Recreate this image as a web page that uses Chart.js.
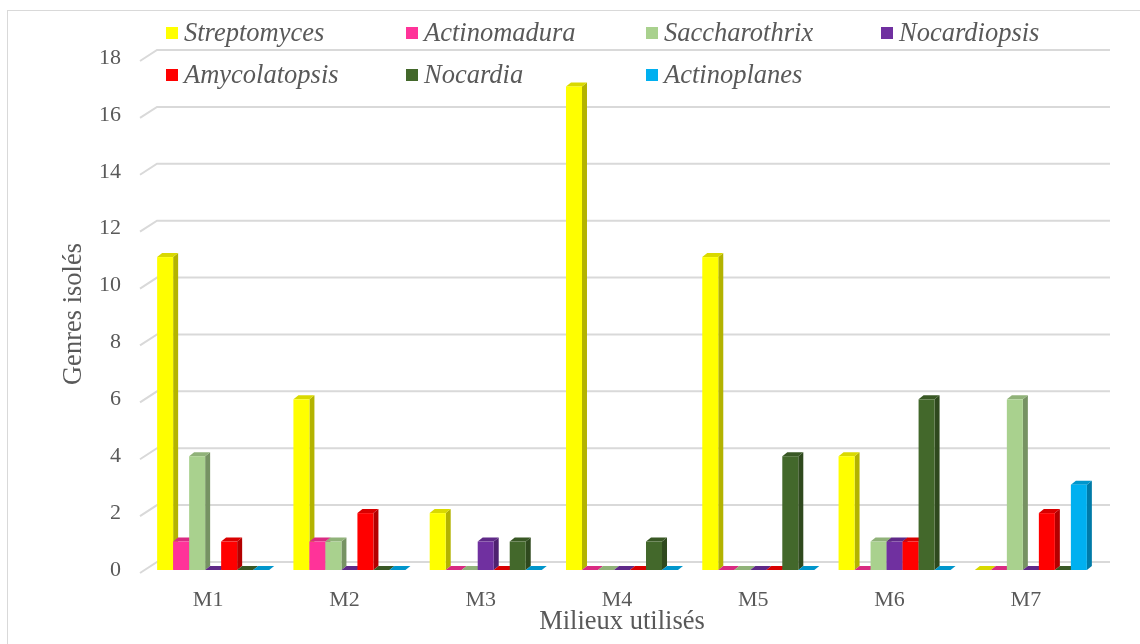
<!DOCTYPE html>
<html>
<head>
<meta charset="utf-8">
<script src="https://cdn.jsdelivr.net/npm/chart.js@4/dist/chart.umd.min.js"></script>
<style>
  html, body { margin: 0; padding: 0; background: #ffffff; }
  #wrap { width: 1140px; height: 644px; position: relative; }
</style>
</head>
<body>
<div id="wrap"><canvas id="chart" width="1140" height="644"></canvas></div>
<script>
// Culture media (x axis categories)
const categories = ['M1', 'M2', 'M3', 'M4', 'M5', 'M6', 'M7'];

// Number of isolates per genus on each medium
const streptomyces  = [11, 6, 2, 17, 11, 4, 0];
const actinomadura  = [1, 1, 0, 0, 0, 0, 0];
const saccharothrix = [4, 1, 0, 0, 0, 1, 6];
const nocardiopsis  = [0, 0, 1, 0, 0, 1, 0];
const amycolatopsis = [1, 2, 0, 0, 0, 1, 2];
const nocardia      = [0, 0, 1, 1, 4, 6, 0];
const actinoplanes  = [0, 0, 0, 0, 0, 0, 3];

// Genus names (legend) and value axis ticks
const genera = ['Streptomyces', 'Actinomadura', 'Saccharothrix', 'Nocardiopsis',
                'Amycolatopsis', 'Nocardia', 'Actinoplanes'];
const yTicks = [0, 2, 4, 6, 8, 10, 12, 14, 16, 18];

const seriesValues = [streptomyces, actinomadura, saccharothrix, nocardiopsis,
                      amycolatopsis, nocardia, actinoplanes];
const seriesColors = ['#FFFF00', '#FF3399', '#A9D18E', '#7030A0',
                      '#FF0000', '#43682B', '#00B0F0'];

const FONT = '"Liberation Serif", "Times New Roman", serif';
const TEXT = '#595959';
const GRID = '#d9d9d9';
const TITLE_SIZE = 26.5;

function shade(hex, f) {
  const n = parseInt(hex.slice(1), 16);
  const r = Math.round(((n >> 16) & 255) * f);
  const g = Math.round(((n >> 8) & 255) * f);
  const b = Math.round((n & 255) * f);
  return 'rgb(' + r + ',' + g + ',' + b + ')';
}

// Pseudo-3D column rendering: back wall gridlines plus front/side/top faces
const DX = 5, DY = 4;           // column depth offset
const WALL_DX = 17, WALL_BACK = 8, WALL_FRONT = 3;

const column3d = {
  id: 'column3d',
  beforeDatasetsDraw(chart) {
    const ctx = chart.ctx;
    const area = chart.chartArea;
    const ys = chart.scales.y;

    // gridlines on back wall, with a short slanted segment on the side wall
    ctx.save();
    ctx.strokeStyle = GRID;
    ctx.lineWidth = 2;
    yTicks.forEach(v => {
      const py = ys.getPixelForValue(v);
      ctx.beginPath();
      ctx.moveTo(area.left - 5, py + WALL_FRONT);
      ctx.lineTo(area.left - 5 + WALL_DX, py - WALL_BACK);
      ctx.lineTo(area.right + 11, py - WALL_BACK);
      ctx.stroke();
    });
    ctx.restore();

    // columns, left to right so each one covers its neighbour's side face
    ctx.save();
    chart.data.datasets.forEach((ds, di) => {
      const meta = chart.getDatasetMeta(di);
      const front = ds.backgroundColor;
      const side = shade(front, 0.7);
      const top = shade(front, 0.85);
      meta.data.forEach(el => {
        const p = el.getProps(['x', 'y', 'base', 'width'], true);
        const l = p.x - p.width / 2, r = p.x + p.width / 2;
        const t = Math.min(p.y, p.base), b = Math.max(p.y, p.base);
        // side face
        ctx.fillStyle = side;
        ctx.beginPath();
        ctx.moveTo(r, t); ctx.lineTo(r + DX, t - DY);
        ctx.lineTo(r + DX, b - DY); ctx.lineTo(r, b);
        ctx.closePath(); ctx.fill();
        // top face
        ctx.fillStyle = top;
        ctx.beginPath();
        ctx.moveTo(l, t); ctx.lineTo(l + DX, t - DY);
        ctx.lineTo(r + DX, t - DY); ctx.lineTo(r, t);
        ctx.closePath(); ctx.fill();
        // front face
        if (b - t > 0) {
          ctx.fillStyle = front;
          ctx.fillRect(l, t, p.width, b - t);
        }
      });
    });
    ctx.restore();
    return false;
  }
};

// Two-row legend and outer frame
const legendFrame = {
  id: 'legendFrame',
  afterDraw(chart) {
    const ctx = chart.ctx;
    ctx.save();
    ctx.strokeStyle = GRID;
    ctx.lineWidth = 1;
    ctx.strokeRect(7.5, 10.5, 1200, 700);

    const colX = [166, 406, 646, 881];
    const rowY = [33, 75];
    ctx.font = 'italic ' + TITLE_SIZE + 'px ' + FONT;
    ctx.textBaseline = 'middle';
    ctx.textAlign = 'left';
    chart.data.datasets.forEach((ds, i) => {
      const x = colX[i % 4];
      const y = rowY[Math.floor(i / 4)];
      ctx.fillStyle = ds.backgroundColor;
      ctx.fillRect(x, y - 6, 12, 12);
      ctx.fillStyle = TEXT;
      ctx.fillText(ds.label, x + 18, y + 1);
    });
    ctx.restore();
  }
};

const datasets = seriesValues.map((vals, i) => ({
  label: genera[i],
  data: vals,
  backgroundColor: seriesColors[i],
  borderWidth: 0,
  categoryPercentage: 0.822,
  barPercentage: 1.0
}));

new Chart(document.getElementById('chart'), {
  type: 'bar',
  data: { labels: categories, datasets: datasets },
  options: {
    responsive: false,
    animation: false,
    layout: { padding: { left: 0, right: 41, top: 58, bottom: 0 } },
    plugins: {
      legend: { display: false },
      tooltip: { enabled: false }
    },
    scales: {
      x: {
        grid: { display: false, drawTicks: false },
        border: { display: false },
        ticks: {
          color: TEXT,
          font: { family: FONT, size: 22 },
          padding: 17,
          labelOffset: -5,
          maxRotation: 0
        },
        title: {
          display: true,
          text: 'Milieux utilisés',
          color: TEXT,
          font: { family: FONT, size: TITLE_SIZE },
          padding: { top: 0, bottom: 6 }
        },
        afterFit(scale) { scale.height = 74; }
      },
      y: {
        min: 0,
        max: 18,
        grid: { display: false, drawTicks: false },
        border: { display: false },
        ticks: {
          stepSize: 2,
          color: TEXT,
          font: { family: FONT, size: 22 },
          padding: 24
        },
        title: {
          display: true,
          text: 'Genres isolés',
          color: TEXT,
          font: { family: FONT, size: TITLE_SIZE },
          padding: { top: 58, bottom: 0 }
        },
        afterFit(scale) { scale.width = 145; }
      }
    }
  },
  plugins: [column3d, legendFrame]
});
</script>
</body>
</html>
